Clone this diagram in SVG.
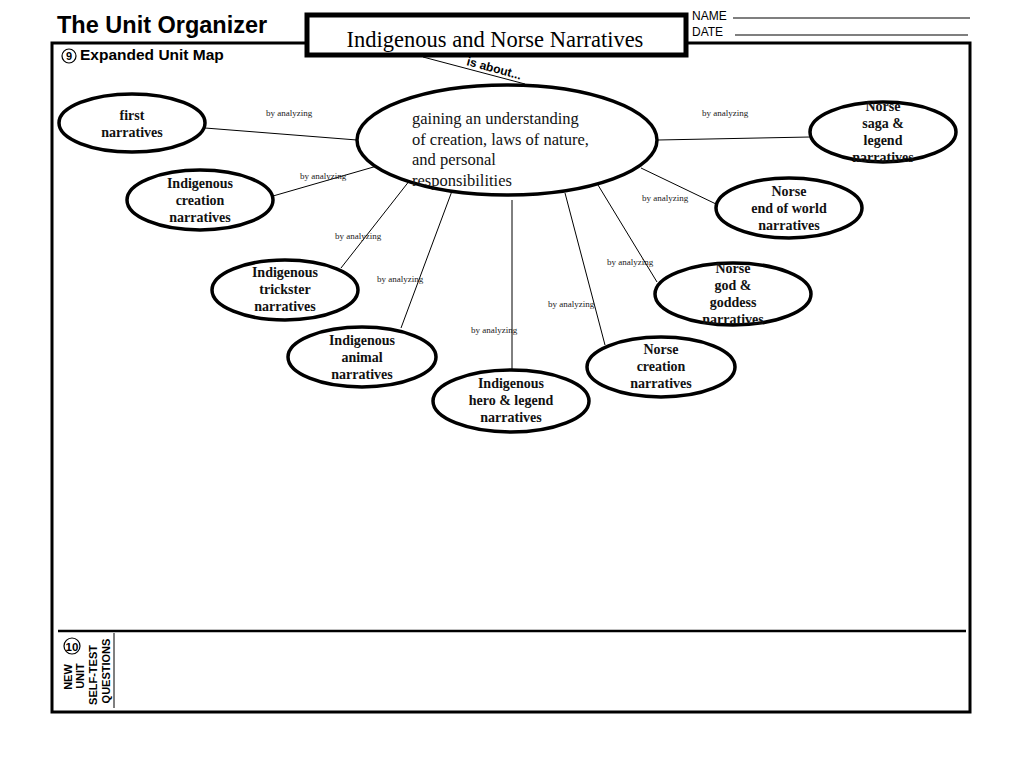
<svg xmlns="http://www.w3.org/2000/svg" width="1024" height="768" viewBox="0 0 1024 768">
<style>
.node ellipse{fill:#fff;stroke:#000;stroke-width:3.5}
.nt{font-family:"Liberation Serif","Times New Roman",serif;font-weight:bold;font-size:14px;text-anchor:middle;fill:#111}
.lbl{font-family:"Liberation Serif","Times New Roman",serif;font-size:9px;fill:#222}
.conn line{stroke:#000;stroke-width:1}
.sans{font-family:"Liberation Sans",Arial,sans-serif}
</style>
<rect width="1024" height="768" fill="#fff"/>
<!-- frame -->
<g id="frame" fill="none" stroke="#000">
<polyline points="307,43 52,43 52,712 970,712 970,43 686,43" stroke-width="3"/>
<line x1="58" y1="631" x2="966" y2="631" stroke-width="2.5"/>
<line x1="114" y1="633" x2="114" y2="708" stroke-width="1"/>
<line x1="733" y1="18" x2="970" y2="18" stroke-width="1.2"/>
<line x1="735" y1="35" x2="968" y2="35" stroke-width="1.2"/>
</g>
<text x="57" y="33" class="sans" font-weight="bold" font-size="23.5">The Unit Organizer</text>
<text x="692" y="20" class="sans" font-size="12">NAME</text>
<text x="692" y="36" class="sans" font-size="12">DATE</text>
<circle cx="69" cy="56" r="7" fill="none" stroke="#000" stroke-width="1.2"/>
<text x="69" y="60" class="sans" font-size="11" font-weight="bold" text-anchor="middle">9</text>
<text x="80" y="60" class="sans" font-weight="bold" font-size="15.5">Expanded Unit Map</text>
<!-- connectors -->
<g id="connectors" class="conn">
<line x1="423" y1="57" x2="525" y2="84" stroke-width="2"/>
<line x1="205" y1="128" x2="357" y2="140"/>
<line x1="273" y1="196" x2="377" y2="166"/>
<line x1="341" y1="268" x2="410" y2="180"/>
<line x1="401" y1="328" x2="452" y2="191"/>
<line x1="512" y1="200" x2="512" y2="370" stroke="#555" stroke-width="1.5"/>
<line x1="605" y1="345" x2="565" y2="193"/>
<line x1="657" y1="282" x2="598" y2="185"/>
<line x1="716" y1="204" x2="641" y2="168"/>
<line x1="658" y1="140" x2="810" y2="137"/>
</g>
<text class="sans" font-size="12" font-weight="bold" transform="translate(466,65) rotate(15)">is about...</text>
<text class="lbl" x="266" y="116">by analyzing</text>
<text class="lbl" x="300" y="179">by analyzing</text>
<text class="lbl" x="335" y="239">by analyzing</text>
<text class="lbl" x="377" y="282">by analyzing</text>
<text class="lbl" x="471" y="333">by analyzing</text>
<text class="lbl" x="548" y="307">by analyzing</text>
<text class="lbl" x="607" y="265">by analyzing</text>
<text class="lbl" x="642" y="201">by analyzing</text>
<text class="lbl" x="702" y="116">by analyzing</text>
<!-- title box -->
<g id="title">
<rect x="307" y="15" width="379" height="40" fill="#fff" stroke="#000" stroke-width="5"/>
<text x="495" y="47" font-family="'Liberation Serif','Times New Roman',serif" font-size="22.5" text-anchor="middle">Indigenous and Norse Narratives</text>
</g>
<!-- center -->
<g id="center" class="node">
<ellipse cx="507" cy="140" rx="150" ry="55"/>
<text font-family="'Liberation Serif','Times New Roman',serif" font-size="16.5" fill="#111">
<tspan x="412" y="124">gaining an understanding</tspan>
<tspan x="412" y="145">of creation, laws of nature,</tspan>
<tspan x="412" y="165">and personal</tspan>
<tspan x="412" y="186">responsibilities</tspan>
</text>
</g>
<g id="n1" class="node"><ellipse cx="132" cy="123" rx="73" ry="29"/>
<text class="nt"><tspan x="132" y="120">first</tspan><tspan x="132" y="137">narratives</tspan></text></g>
<g id="n2" class="node"><ellipse cx="200" cy="200" rx="73" ry="30"/>
<text class="nt"><tspan x="200" y="188">Indigenous</tspan><tspan x="200" y="205">creation</tspan><tspan x="200" y="222">narratives</tspan></text></g>
<g id="n3" class="node"><ellipse cx="285" cy="290" rx="73" ry="30"/>
<text class="nt"><tspan x="285" y="277">Indigenous</tspan><tspan x="285" y="294">trickster</tspan><tspan x="285" y="311">narratives</tspan></text></g>
<g id="n4" class="node"><ellipse cx="362" cy="357" rx="74" ry="30"/>
<text class="nt"><tspan x="362" y="345">Indigenous</tspan><tspan x="362" y="362">animal</tspan><tspan x="362" y="379">narratives</tspan></text></g>
<g id="n5" class="node"><ellipse cx="511" cy="401" rx="78" ry="31"/>
<text class="nt"><tspan x="511" y="388">Indigenous</tspan><tspan x="511" y="405">hero &amp; legend</tspan><tspan x="511" y="422">narratives</tspan></text></g>
<g id="n6" class="node"><ellipse cx="661" cy="367" rx="74" ry="30"/>
<text class="nt"><tspan x="661" y="354">Norse</tspan><tspan x="661" y="371">creation</tspan><tspan x="661" y="388">narratives</tspan></text></g>
<g id="n7" class="node"><ellipse cx="733" cy="294" rx="78" ry="31"/>
<text class="nt"><tspan x="733" y="273">Norse</tspan><tspan x="733" y="290">god &amp;</tspan><tspan x="733" y="307">goddess</tspan><tspan x="733" y="324">narratives</tspan></text></g>
<g id="n8" class="node"><ellipse cx="789" cy="208" rx="73" ry="30"/>
<text class="nt"><tspan x="789" y="196">Norse</tspan><tspan x="789" y="213">end of world</tspan><tspan x="789" y="230">narratives</tspan></text></g>
<g id="n9" class="node"><ellipse cx="883" cy="132" rx="73" ry="30"/>
<text class="nt"><tspan x="883" y="111">Norse</tspan><tspan x="883" y="128">saga &amp;</tspan><tspan x="883" y="145">legend</tspan><tspan x="883" y="162">narratives</tspan></text></g>
<!-- bottom -->
<g id="selftest">
<circle cx="72" cy="646" r="8" fill="none" stroke="#000" stroke-width="1.2"/>
<text x="72" y="650.5" class="sans" font-size="11.5" font-weight="bold" text-anchor="middle">10</text>
<g class="sans" font-size="11" font-weight="bold" text-anchor="middle">
<text transform="translate(72,677) rotate(-90)">NEW</text>
<text transform="translate(84,676) rotate(-90)">UNIT</text>
<text transform="translate(97,675) rotate(-90)">SELF-TEST</text>
<text transform="translate(110,671) rotate(-90)">QUESTIONS</text>
</g>
</g>
</svg>
